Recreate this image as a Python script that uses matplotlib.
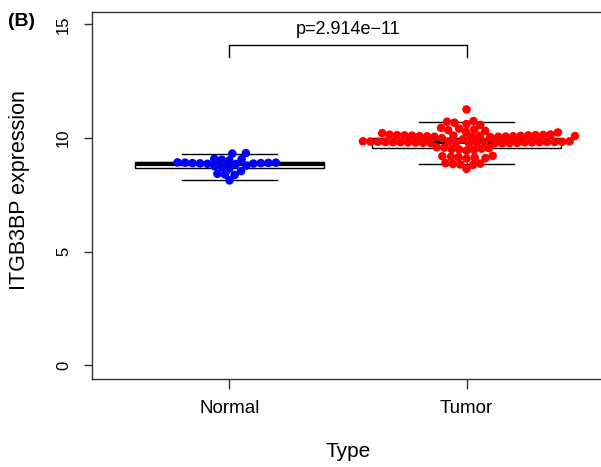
import numpy as np
import matplotlib
matplotlib.use("Agg")
import matplotlib.pyplot as plt

plt.rcParams['font.family'] = ['Liberation Sans', 'DejaVu Sans']

groups = ["Normal", "Tumor"]
colors = ["#0000FF", "#FF0000"]

# expression values
normal = [8.14, 8.38, 8.40, 8.43, 8.55, 8.68, 8.72, 8.76, 8.79,
          8.86, 8.87, 8.88, 8.89, 8.90, 8.90, 8.91, 8.92, 8.92, 8.93,
          9.02, 9.05, 9.07, 9.09, 9.32, 9.34]
tumor = [8.65, 8.82, 8.84, 8.86, 8.88, 8.90,
         9.10, 9.12, 9.14, 9.16, 9.18, 9.20, 9.22,
         9.45, 9.48, 9.50, 9.52, 9.54, 9.56, 9.58, 9.60,
         9.76, 9.77, 9.77, 9.78, 9.78, 9.79, 9.79, 9.80, 9.80, 9.80, 9.81, 9.81,
         9.81, 9.82, 9.82, 9.82, 9.83, 9.83, 9.83, 9.84, 9.84, 9.84, 9.85, 9.85,
         9.86, 9.86, 9.95, 10.00,
         10.05, 10.06, 10.06, 10.07, 10.07, 10.08, 10.08, 10.09, 10.09,
         10.10, 10.10, 10.11, 10.11, 10.12, 10.12, 10.13, 10.13, 10.14,
         10.15, 10.16,
         10.22, 10.25, 10.28, 10.32, 10.35, 10.38, 10.42, 10.45,
         10.58, 10.62, 10.68, 10.72, 10.75,
         11.26]

# box statistics
q1 = [8.69, 9.57]
med = [8.87, 9.82]
q3 = [8.93, 10.01]
whislo = [8.16, 8.84]
whishi = [9.31, 10.72]

p_text = "p=2.914e\u221211"

fig = plt.figure(figsize=(6.01, 4.67), dpi=100)
ax = fig.add_axes([92 / 601, 88 / 467, 512 / 601, 367 / 467])
ax.set_xlim(0.42, 2.58)
ax.set_ylim(-0.6, 15.55)

stats = []
for i in range(2):
    stats.append(dict(med=med[i], q1=q1[i], q3=q3[i],
                      whislo=whislo[i], whishi=whishi[i], fliers=[]))
ax.bxp(stats, positions=[1, 2], widths=0.8, showfliers=False, patch_artist=True,
       boxprops=dict(facecolor='white', edgecolor='black', linewidth=1),
       medianprops=dict(color='black', linewidth=3),
       whiskerprops=dict(color='black', linewidth=1, linestyle='--'),
       capprops=dict(color='black', linewidth=1), zorder=1)


def swarm(values, pos, d):
    # place points in ascending order, as close to the centre as they fit
    pts = ax.transData.transform(np.column_stack([np.full(len(values), pos), values]))
    y = pts[:, 1]
    x0 = pts[0, 0]
    placed_x, placed_y = [], []
    xs = np.zeros(len(values))
    for i in np.argsort(y, kind='stable'):
        near = [(px, py) for px, py in zip(placed_x, placed_y) if abs(py - y[i]) < d]
        cands = [0.0]
        for px, py in near:
            dx = np.sqrt(d ** 2 - (py - y[i]) ** 2)
            cands += [px + dx, px - dx]
        cands.sort(key=abs)
        for c in cands:
            if all((c - px) ** 2 + (y[i] - py) ** 2 >= d ** 2 - 1e-6 for px, py in near):
                xs[i] = c
                break
        placed_x.append(xs[i])
        placed_y.append(y[i])
    inv = ax.transData.inverted()
    return inv.transform(np.column_stack([x0 + xs, y]))[:, 0]


for i, vals in enumerate([normal, tumor]):
    xpos = swarm(vals, i + 1, 7.5)
    ax.scatter(xpos, vals, s=38, color=colors[i], edgecolors='none', zorder=3)

# significance bracket
ax.plot([1, 1, 2, 2], [13.55, 14.08, 14.08, 13.55], color='black', lw=1)
ax.text(1.5, 14.8, p_text, ha='center', va='center', fontsize=13)

ax.set_xticks([1, 2])
ax.set_xticklabels(groups, fontsize=13.5)
ax.set_yticks([0, 5, 10, 15])
ax.set_yticklabels(["0", "5", "10", "15"], fontsize=12, rotation=90, va='center')
ax.tick_params(axis='x', length=7, width=1, pad=8, color='#333333')
ax.tick_params(axis='y', length=6, width=1, pad=9, color='#333333')
for s in ax.spines.values():
    s.set_color('#333333')
    s.set_linewidth(1)

ax.set_xlabel("Type", fontsize=15, labelpad=18)
ax.set_ylabel("ITGB3BP expression", fontsize=15.5, va='center')
ax.yaxis.set_label_coords(-0.141, 0.515)

fig.text(8 / 601, 1 - 21 / 467, "(B)", fontsize=14, fontweight='bold', va='center', ha='left')

fig.savefig("out.png", dpi=100)
